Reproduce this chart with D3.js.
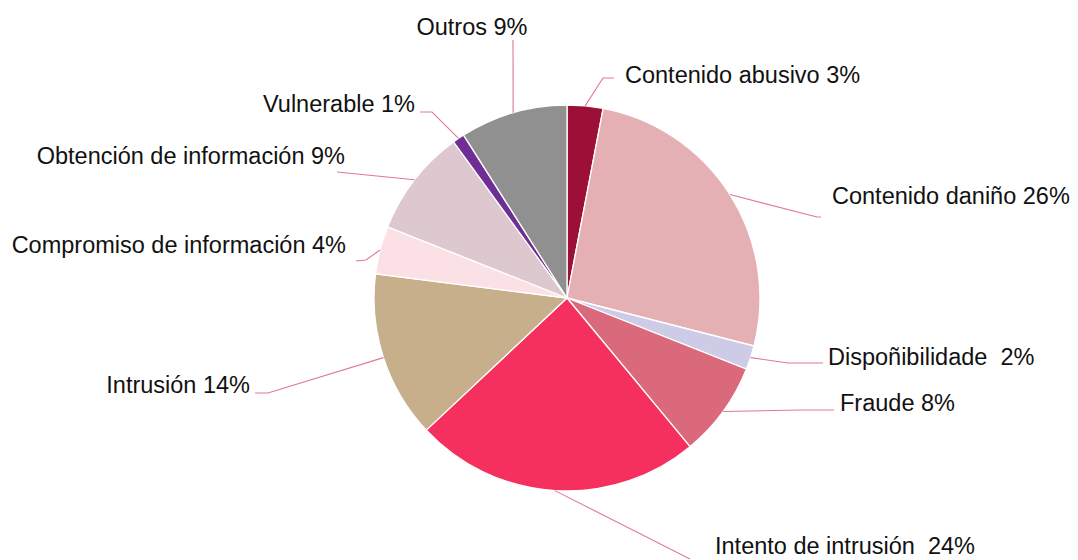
<!DOCTYPE html>
<html>
<head>
<meta charset="utf-8">
<script src="https://cdn.jsdelivr.net/npm/d3@7"></script>
<style>
  html, body { margin: 0; padding: 0; background: #ffffff; }
  svg { display: block; }
  text { font-family: "Liberation Sans", Arial, sans-serif; }
</style>
</head>
<body>
<svg id="chart" width="1078" height="560"></svg>
<script>
// ---- data ----
const categories = [
  "Contenido abusivo", "Contenido daniño", "Dispoñibilidade", "Fraude",
  "Intento de intrusión", "Intrusión", "Compromiso de información",
  "Obtención de información", "Vulnerable", "Outros"
];
const values = [3, 26, 2, 8, 24, 14, 4, 9, 1, 9];
const labelTexts = [
  "Contenido abusivo 3%", "Contenido daniño 26%", "Dispoñibilidade  2%", "Fraude 8%",
  "Intento de intrusión  24%", "Intrusión 14%", "Compromiso de información 4%",
  "Obtención de información 9%", "Vulnerable 1%", "Outros 9%"
];
const colors = [
  "#9c0f36", "#e4b0b4", "#cdcbe6", "#da6a7b", "#f52f5e",
  "#c8af8b", "#fbe1e6", "#dcc8ce", "#6e2e93", "#8f908f"
];

// ---- layout (label text positions and leader routes) ----
const cx = 567, cy = 298, R = 193;
const labelLayout = [
  { tx: 625, ty: 75,  anchor: "start",  route: [[603, 78], [614, 78]] },
  { tx: 832, ty: 196, anchor: "start",  route: [[817, 217], [821, 217]] },
  { tx: 828, ty: 357, anchor: "start",  route: [[788, 363], [823, 363]] },
  { tx: 840, ty: 403, anchor: "start",  route: [[800, 410], [834, 410]] },
  { tx: 715, ty: 546, anchor: "start",  route: [[690, 559]] },
  { tx: 250, ty: 385, anchor: "end",    route: [[268, 393], [255, 393]] },
  { tx: 346, ty: 245, anchor: "end",    route: [[366, 260], [356, 261]] },
  { tx: 345, ty: 156, anchor: "end",    route: [[337, 172]] },
  { tx: 415, ty: 104, anchor: "end",    route: [[432, 112], [420, 112]] },
  { tx: 472, ty: 27,  anchor: "middle", route: [[513, 40]] }
];

const svg = d3.select("#chart");
const g = svg.append("g").attr("transform", `translate(${cx},${cy})`);

const pie = d3.pie().sort(null).value(d => d)
  .startAngle(0).endAngle(2 * Math.PI);
const arcs = pie(values);
const arc = d3.arc().innerRadius(0).outerRadius(R);
const edgeArc = d3.arc().innerRadius(R).outerRadius(R);

g.selectAll("path.slice")
  .data(arcs)
  .join("path")
  .attr("class", "slice")
  .attr("d", arc)
  .attr("fill", (d, i) => colors[i])
  .attr("stroke", "#ffffff")
  .attr("stroke-width", 1.3)
  .attr("stroke-linejoin", "round");

// leader lines
const line = d3.line();
svg.selectAll("path.leader")
  .data(arcs)
  .join("path")
  .attr("class", "leader")
  .attr("d", (d, i) => {
    const c = edgeArc.centroid(d);
    const pts = [[cx + c[0], cy + c[1]], ...labelLayout[i].route];
    return line(pts);
  })
  .attr("fill", "none")
  .attr("stroke", "#e07a93")
  .attr("stroke-width", 1.1);

// labels
svg.selectAll("text.lbl")
  .data(arcs)
  .join("text")
  .attr("class", "lbl")
  .attr("x", (d, i) => labelLayout[i].tx)
  .attr("y", (d, i) => labelLayout[i].ty)
  .attr("text-anchor", (d, i) => labelLayout[i].anchor)
  .attr("dominant-baseline", "central")
  .attr("font-size", "23.5px")
  .attr("fill", "#111111")
  .style("white-space", "pre")
  .text((d, i) => labelTexts[i]);
</script>
</body>
</html>
